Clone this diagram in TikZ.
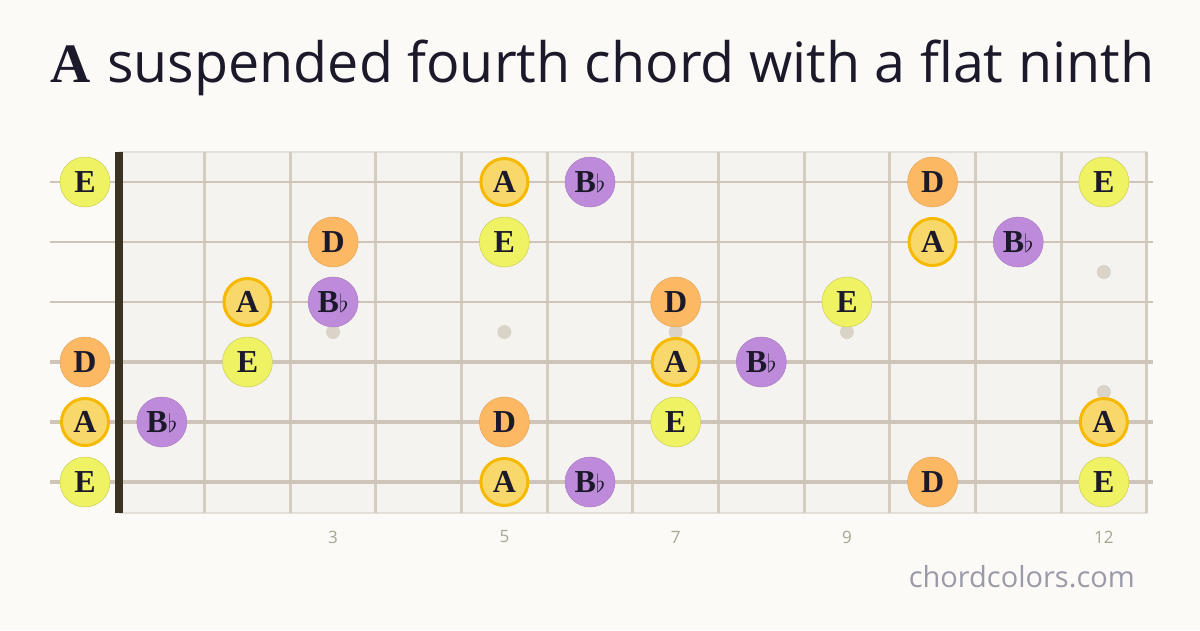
\documentclass[tikz,border=0pt]{standalone}
\usepackage{fontspec}
\setsansfont{Open Sans}
\newfontfamily\notefont{Liberation Serif}
\usepackage{tikz}
\definecolor{pagecream}{HTML}{FBFAF7}
\definecolor{boardcream}{HTML}{F5F3EF}
\definecolor{boardedge}{HTML}{E4DFD8}
\definecolor{fretgrey}{HTML}{D4CCBF}
\definecolor{stringgrey}{HTML}{CEC5B8}
\definecolor{nutbrown}{HTML}{3A3322}
\definecolor{markergrey}{HTML}{D9D3C8}
\definecolor{inkdark}{HTML}{1C1A2A}
\definecolor{numgrey}{HTML}{A8A595}
\definecolor{sitegrey}{HTML}{9B9AA8}
\definecolor{rootfill}{HTML}{F8D86A}
\definecolor{rootring}{HTML}{F6B900}
\definecolor{fifthyellow}{HTML}{EFF263}
\definecolor{fourthorange}{HTML}{FDB863}
\definecolor{flatpurple}{HTML}{BE8BDB}

\begin{document}
\begin{tikzpicture}[x=1pt,y=-1pt,
        note/.style={circle, minimum size=50pt, inner sep=0pt, text=inkdark,
            font=\notefont\bfseries\fontsize{32}{32}\selectfont},
        noteA/.style={note, fill=rootfill, draw=rootring, line width=3pt, minimum size=47pt},
        noteE/.style={note, fill=fifthyellow, draw=fifthyellow!85!black, line width=0.5pt},
        noteD/.style={note, fill=fourthorange, draw=fourthorange!90!black, line width=0.5pt},
        noteBb/.style={note, fill=flatpurple, draw=flatpurple!90!black, line width=0.5pt},
        fretline/.style={fretgrey, line width=3pt},
        marker/.style={circle, fill=markergrey, minimum size=14pt, inner sep=0pt},
        fretnum/.style={text=numgrey, font=\sffamily\fontsize{17}{17}\selectfont}
    ]
        \fill[pagecream] (0,0) rectangle (1200,630);
        \useasboundingbox (0,0) rectangle (1200,630);
        % Add title
        \node[anchor=base west, text=inkdark, inner sep=0pt] (title) at (50,82)
            {\fontsize{55.6}{66}\selectfont{\notefont\bfseries A} \sffamily suspended fourth chord with a flat ninth};
        % board and frets
        \fill[boardcream] (119,152) rectangle (1147,513);
        \draw[boardedge, line width=2pt] (119,152) -- (1147,152);
        \draw[boardedge, line width=2pt] (119,513) -- (1147,513);
        \foreach \i in {1,...,12}
            \draw[fretline] ({119+\i*85.64},152) -- ({119+\i*85.64},513);
        % inlay dots
        \foreach \f/\y/\nm in {3/332/m3, 5/332/m5, 7/332/m7, 9/332/m9, 12/272/m12a, 12/392/m12b}
            \node[marker] (\nm) at ({119+(\f-0.5)*85.64},\y) {};
        % strings
        \foreach \s in {1,...,6}
            \draw[stringgrey, line width={1.6pt+0.45pt*\s}] (50,{182+(\s-1)*60}) -- (1153,{182+(\s-1)*60});
        \fill[nutbrown] (115,152) rectangle (123,513);
        % fret numbers
        \foreach \f in {3,5,7,9,12}
            \node[fretnum] (num\f) at ({119+(\f-0.5)*85.64},537) {\f};
        % notes
        \foreach \s/\f/\st/\lb in {
            1/0/E/E, 1/5/A/A, 1/6/Bb/B$\flat$, 1/10/D/D, 1/12/E/E,
            2/3/D/D, 2/5/E/E, 2/10/A/A, 2/11/Bb/B$\flat$,
            3/2/A/A, 3/3/Bb/B$\flat$, 3/7/D/D, 3/9/E/E,
            4/0/D/D, 4/2/E/E, 4/7/A/A, 4/8/Bb/B$\flat$,
            5/0/A/A, 5/1/Bb/B$\flat$, 5/5/D/D, 5/7/E/E, 5/12/A/A,
            6/0/E/E, 6/5/A/A, 6/6/Bb/B$\flat$, 6/10/D/D, 6/12/E/E}
        {
            \pgfmathsetmacro\nx{\f==0 ? 85 : 119+(\f-0.5)*85.64}
            \node[note\st] (n\s-\f) at (\nx,{182+(\s-1)*60}) {\lb};
        }
        \node[anchor=base east, text=sitegrey, inner sep=0pt,
            font=\sffamily\fontsize{29}{29}\selectfont] (site) at (1135,587) {chordcolors.com};
    \end{tikzpicture}
\end{document}
